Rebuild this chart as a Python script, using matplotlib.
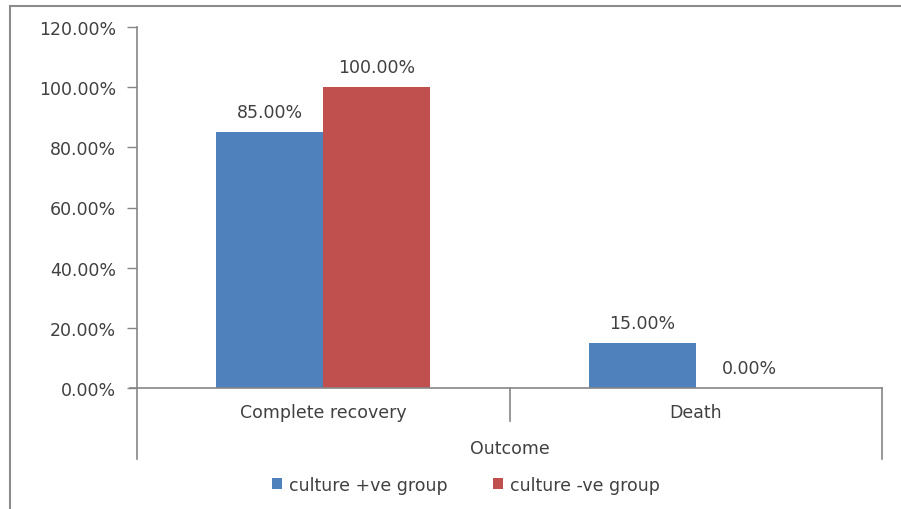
import matplotlib.pyplot as plt
from matplotlib.lines import Line2D
import numpy as np

categories = ["Complete recovery", "Death"]
series_names = ["culture +ve group", "culture -ve group"]
positive_group = [85.0, 15.0]
negative_group = [100.0, 0.0]
y_ticks = [0, 20, 40, 60, 80, 100, 120]
axis_title = "Outcome"

colors = ["#4F81BD", "#C0504D"]
axis_color = "#868686"
text_color = "#404040"
font = "DejaVu Sans"
fs = 12.5

W, H = 901, 510
fig = plt.figure(figsize=(W / 100, H / 100), dpi=100)

# plot area in pixel coordinates
x0, x1, y_top, y_bot = 137, 882, 28, 389
ax = fig.add_axes([x0 / W, 1 - y_bot / H, (x1 - x0) / W, (y_bot - y_top) / H])

x = np.arange(len(categories))
bw = 0.287
series = [positive_group, negative_group]
offsets = [-bw / 2, bw / 2]
bars = []
for vals, off, col, name in zip(series, offsets, colors, series_names):
    b = ax.bar(x + off, vals, width=bw, color=col, label=name, zorder=2)
    bars.append(b)
    for xi, v in zip(x + off, vals):
        ax.annotate(f"{v:.2f}%", (xi, v), xytext=(0, 8), textcoords="offset points",
                    ha="center", va="bottom", fontsize=fs, color=text_color,
                    family=font)

ax.set_xlim(-0.5, len(categories) - 0.5)
ax.set_ylim(0, 120)
ax.set_yticks(y_ticks)
ax.set_yticklabels([f"{t:.2f}%" for t in y_ticks], fontsize=fs, color=text_color,
                   family=font)
ax.tick_params(axis="y", length=7, width=1, color=axis_color, pad=8)
ax.set_xticks([])

for s in ["top", "right", "bottom"]:
    ax.spines[s].set_visible(False)
ax.spines["left"].set_color(axis_color)
ax.spines["left"].set_linewidth(1.2)

# horizontal axis line, extending through the zero tick
fig.add_artist(Line2D([130 / W, x1 / W], [1 - y_bot / H] * 2, color=axis_color, lw=1.2))

# category dividers of the multi-level axis
for px, bottom in [(x0, 460), ((x0 + x1) / 2, 422), (x1, 460)]:
    fig.add_artist(Line2D([px / W] * 2, [1 - y_bot / H, 1 - bottom / H],
                          color=axis_color, lw=1.2))

for xi, cat in zip(x, categories):
    ax.text(xi, -24 / 361 * 120, cat, ha="center", va="center", fontsize=fs,
            color=text_color, family=font)
fig.text((x0 + x1) / 2 / W, 1 - 449 / H, axis_title, ha="center", va="center",
         fontsize=fs, color=text_color, family=font)

leg = fig.legend(handles=bars, labels=series_names, loc="center",
                 bbox_to_anchor=(466 / W, 1 - 486 / H), ncol=2, frameon=False,
                 handlelength=0.6, handleheight=0.6,
                 handletextpad=0.4, columnspacing=2.6,
                 prop={"family": font, "size": fs})
for t in leg.get_texts():
    t.set_color(text_color)

# chart border (top and left edges)
fig.add_artist(Line2D([10 / W, 1], [1 - 6.5 / H] * 2, color="#8c8c8c", lw=1.5))
fig.add_artist(Line2D([10 / W] * 2, [0, 1 - 6.5 / H], color="#8c8c8c", lw=1.5))

fig.savefig("out.png", dpi=100, facecolor="white")
